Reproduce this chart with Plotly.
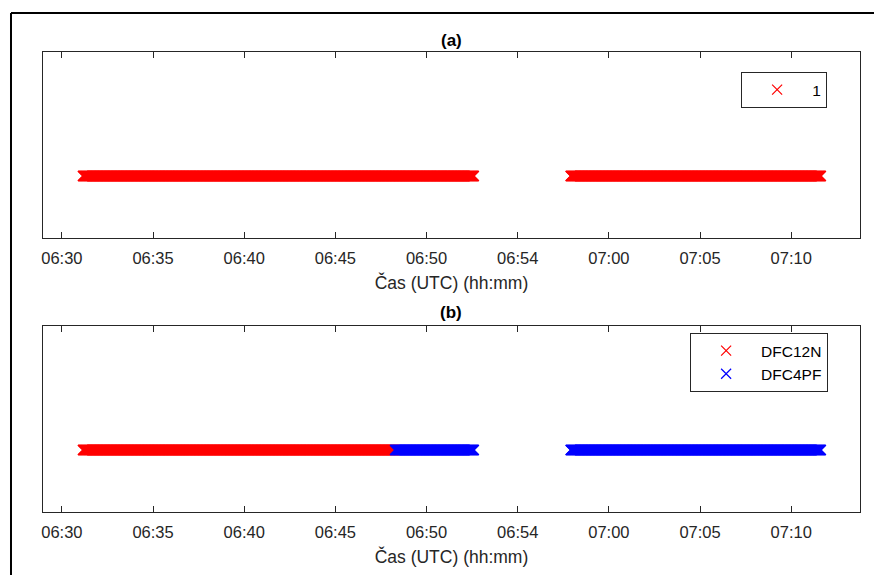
import pandas as pd
import plotly.graph_objects as go

DAY = "2015-03-20 "

# Panel (a): series "1" – segments (start, end) of samples, value 1
a_segments = [("06:31:09", "06:52:36"), ("06:57:54", "07:11:38")]
# Panel (b): DFC12N (red) and DFC4PF (blue)
b_red_segments = [("06:31:09", "06:48:15")]
b_blue_segments = [("06:48:16", "06:52:36"), ("06:57:54", "07:11:38")]
sample_step = "1s"
value = 1

tick_times = ["06:30", "06:35", "06:40", "06:45", "06:50", "06:55", "07:00", "07:05", "07:10"]
tick_labels = ["06:30", "06:35", "06:40", "06:45", "06:50", "06:54", "07:00", "07:05", "07:10"]
x_range = ["06:28:57.6", "07:13:46.6"]
y_range = [0.5, 2]


def samples(segments):
    xs = []
    for s, e in segments:
        xs.extend(pd.date_range(DAY + s, DAY + e, freq=sample_step))
    return xs


fig = go.Figure()

def add(xs, name, color, xa, ya, leg):
    fig.add_trace(go.Scatter(x=xs, y=[value] * len(xs), mode="markers", name=name,
                             marker=dict(symbol="x-thin", size=10, color=color,
                                         line=dict(color=color, width=1.2)),
                             xaxis=xa, yaxis=ya, legend=leg))

add(samples(a_segments), "1", "#ff0000", "x", "y", "legend")
add(samples(b_red_segments), "DFC12N", "#ff0000", "x2", "y2", "legend2")
add(samples(b_blue_segments), "DFC4PF", "#0000ff", "x2", "y2", "legend2")

# page is offset by the 8px body margin
OX, OY = 8, 8
W, H = 882 - OX, 575 - OY
px = lambda x: (x - OX) / W
py = lambda y: 1 - (y - OY) / H

dom_x = [px(41), px(860)]
dom_a = [py(238), py(52)]
dom_b = [py(512), py(326)]
axcol = "#262626"
font = "Liberation Sans, Arial, sans-serif"

xcommon = dict(type="date", range=[DAY + x_range[0], DAY + x_range[1]],
               tickvals=[DAY + t for t in tick_times], ticktext=tick_labels,
               ticks="inside", ticklen=6, tickcolor=axcol, tickwidth=1,
               showline=True, linecolor=axcol, linewidth=1, mirror="allticks",
               showgrid=False, zeroline=False,
               tickfont=dict(family=font, size=16.5, color=axcol),
               ticklabelstandoff=5,
               title=dict(text="Čas (UTC) (hh:mm)", font=dict(family=font, size=17.5, color=axcol), standoff=10),
               domain=dom_x)
ycommon = dict(range=y_range, showticklabels=False, ticks="", showline=True, linecolor=axcol,
               linewidth=1, mirror=True, showgrid=False, zeroline=False)

legcommon = dict(bgcolor="white", bordercolor=axcol, borderwidth=1,
                 font=dict(family=font, size=15.5, color="#000000"),
                 xanchor="right", yanchor="top", xref="paper", yref="paper",
                 itemwidth=60, tracegroupgap=0)

fig.update_layout(
    width=W, height=H, margin=dict(l=0, r=0, t=0, b=0),
    paper_bgcolor="white", plot_bgcolor="white",
    showlegend=True,
    xaxis=dict(**xcommon, anchor="y"),
    yaxis=dict(**ycommon, domain=dom_a, anchor="x"),
    xaxis2=dict(**xcommon, anchor="y2"),
    yaxis2=dict(**ycommon, domain=dom_b, anchor="x2"),
    legend=dict(**legcommon, x=px(827), y=py(72)),
    legend2=dict(**legcommon, x=px(828), y=py(333)),
    annotations=[
        dict(text="<b>(a)</b>", x=(dom_x[0] + dom_x[1]) / 2, y=py(40), xref="paper", yref="paper",
             showarrow=False, font=dict(family=font, size=17, color="#000000"), xanchor="center", yanchor="middle"),
        dict(text="<b>(b)</b>", x=(dom_x[0] + dom_x[1]) / 2, y=py(312), xref="paper", yref="paper",
             showarrow=False, font=dict(family=font, size=17, color="#000000"), xanchor="center", yanchor="middle"),
    ],
    shapes=[
        dict(type="line", xref="paper", yref="paper", x0=px(9), x1=px(9), y0=0, y1=py(13),
             line=dict(color="black", width=2)),
        dict(type="line", xref="paper", yref="paper", x0=px(9), x1=1, y0=py(13), y1=py(13),
             line=dict(color="black", width=2)),
    ],
)

fig.write_html("out.html")
